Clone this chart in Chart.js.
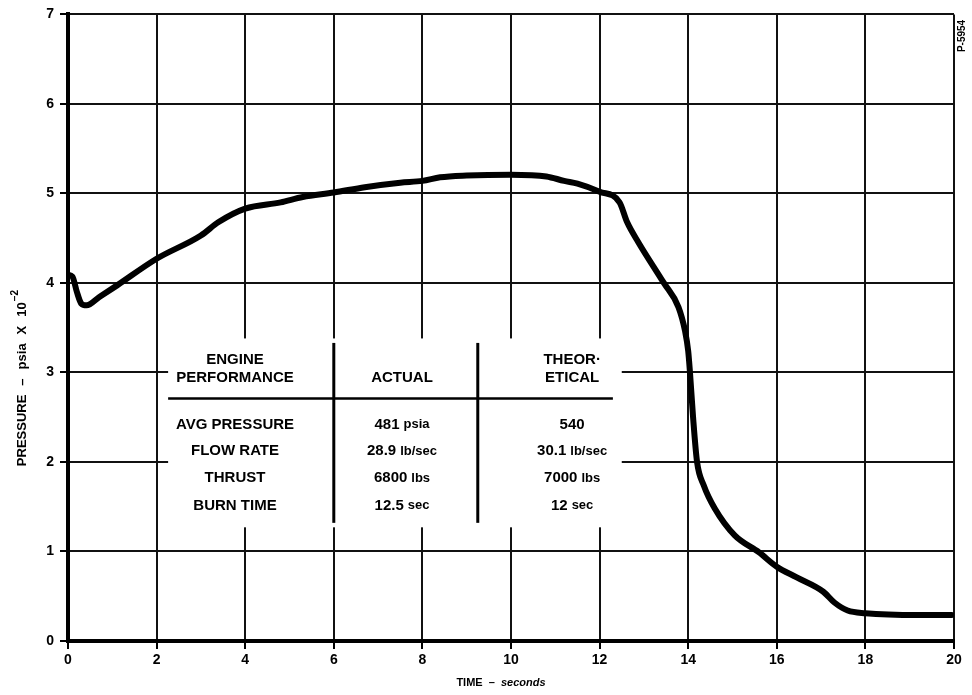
<!DOCTYPE html>
<html>
<head>
<meta charset="utf-8">
<script src="https://cdn.jsdelivr.net/npm/chart.js@4.4.1/dist/chart.umd.min.js"></script>
<style>
  body { margin: 0; background: #fff; }
  canvas { display: block; }
</style>
</head>
<body>
<canvas id="pressureChart" width="972" height="695"></canvas>
<script>
// chamber pressure trace
const timeSec = [0, 0.1, 0.2, 0.3, 0.42, 0.7, 1.1, 2, 3, 3.4, 4, 4.8, 5.3, 6, 6.7, 7.5, 8, 8.4, 9, 10, 10.8, 11.2, 11.5, 12, 12.45, 12.62, 12.88, 13.45, 13.78, 13.93, 14.0, 14.04, 14.11, 14.2, 14.35, 14.6, 15.05, 15.6, 16, 16.45, 17.05, 17.3, 17.6, 18, 19.2, 19.95];
const pressure = [4.09, 4.07, 3.9, 3.77, 3.75, 3.84, 3.97, 4.27, 4.53, 4.68, 4.83, 4.9, 4.96, 5.01, 5.07, 5.12, 5.14, 5.18, 5.2, 5.21, 5.19, 5.14, 5.11, 5.02, 4.9, 4.68, 4.45, 4.0, 3.73, 3.46, 3.24, 3.0, 2.5, 2.0, 1.74, 1.48, 1.18, 0.99, 0.83, 0.71, 0.55, 0.43, 0.34, 0.31, 0.29, 0.29];

// engine performance table
const headEngine = ["ENGINE", "PERFORMANCE"];
const headActual = ["", "ACTUAL"];
const headTheo = ["THEOR·", "ETICAL"];
const rowNames = ["AVG PRESSURE", "FLOW RATE", "THRUST", "BURN TIME"];
const actualNum = ["481", "28.9", "6800", "12.5"];
const actualUnit = ["psia", "lb/sec", "lbs", "sec"];
const theoNum = ["540", "30.1", "7000", "12"];
const theoUnit = ["", "lb/sec", "lbs", "sec"];

const FONT = '"Liberation Sans", Arial, sans-serif';

function drawMixed(ctx, cx, cy, num, unit) {
  ctx.font = 'bold 15px ' + FONT;
  let w1 = ctx.measureText(num).width;
  ctx.font = 'bold 13px ' + FONT;
  let gap = unit ? 4 : 0;
  let w2 = unit ? ctx.measureText(unit).width : 0;
  let left = cx - (w1 + gap + w2) / 2;
  ctx.textAlign = 'left';
  ctx.font = 'bold 15px ' + FONT;
  ctx.fillText(num, left, cy);
  if (unit) {
    ctx.font = 'bold 13px ' + FONT;
    ctx.fillText(unit, left + w1 + gap, cy);
  }
}

const tablePlugin = {
  id: 'perfTable',
  beforeDatasetsDraw(chart) {
    const ctx = chart.ctx;
    const xs = chart.scales.x, ys = chart.scales.y;
    const X = v => xs.getPixelForValue(v);
    const Y = v => ys.getPixelForValue(v);
    ctx.save();
    // white box hides the grid behind the table
    ctx.fillStyle = '#fff';
    ctx.fillRect(X(2.26), Y(3.38), X(12.5) - X(2.26), Y(1.27) - Y(3.38));

    ctx.strokeStyle = '#000';
    ctx.lineWidth = 2.5;
    ctx.beginPath();
    ctx.moveTo(X(2.26), Y(2.71));
    ctx.lineTo(X(12.3), Y(2.71));
    ctx.stroke();
    ctx.lineWidth = 3;
    [6.0, 9.25].forEach(v => {
      ctx.beginPath();
      ctx.moveTo(X(v), Y(3.33));
      ctx.lineTo(X(v), Y(1.32));
      ctx.stroke();
    });

    ctx.fillStyle = '#000';
    ctx.textBaseline = 'middle';
    ctx.textAlign = 'center';
    ctx.font = 'bold 15px ' + FONT;
    const headY = [3.14, 2.94];
    headY.forEach((hy, i) => {
      ctx.fillText(headEngine[i], X(3.77), Y(hy));
      if (headActual[i]) ctx.fillText(headActual[i], X(7.54), Y(hy));
      ctx.fillText(headTheo[i], X(11.38), Y(hy));
    });
    const rowY = [2.42, 2.12, 1.82, 1.51];
    rowNames.forEach((name, i) => {
      ctx.textAlign = 'center';
      ctx.font = 'bold 15px ' + FONT;
      ctx.fillText(name, X(3.77), Y(rowY[i]));
      drawMixed(ctx, X(7.54), Y(rowY[i]), actualNum[i], actualUnit[i]);
      drawMixed(ctx, X(11.38), Y(rowY[i]), theoNum[i], theoUnit[i]);
    });
    ctx.restore();
  },
  afterDraw(chart) {
    const ctx = chart.ctx;
    ctx.save();
    ctx.fillStyle = '#000';
    ctx.textBaseline = 'middle';

    // y axis title, word by word, with superscript
    ctx.translate(22, 378);
    ctx.rotate(-Math.PI / 2);
    const words = ['PRESSURE', '–', 'psia', 'X', '10'];
    const gap = 9;
    ctx.font = 'bold 13px ' + FONT;
    let widths = words.map(w => ctx.measureText(w).width);
    ctx.font = 'bold 10px ' + FONT;
    const wSup = ctx.measureText('−2').width;
    let total = widths.reduce((a, b) => a + b, 0) + gap * (words.length - 1) + wSup + 1;
    let pos = -total / 2;
    ctx.textAlign = 'left';
    ctx.font = 'bold 13px ' + FONT;
    words.forEach((w, i) => {
      ctx.fillText(w, pos, 0);
      pos += widths[i] + (i < words.length - 1 ? gap : 1);
    });
    ctx.font = 'bold 10px ' + FONT;
    ctx.fillText('−2', pos, -7);
    ctx.restore();

    // x axis title
    ctx.save();
    ctx.fillStyle = '#000';
    ctx.textBaseline = 'middle';
    ctx.textAlign = 'left';
    ctx.font = 'bold 11px ' + FONT;
    const t1 = 'TIME  –  ';
    const w1 = ctx.measureText(t1).width;
    ctx.font = 'italic bold 11px ' + FONT;
    const t2 = 'seconds';
    const w2 = ctx.measureText(t2).width;
    const cx = 501;
    ctx.font = 'bold 11px ' + FONT;
    ctx.fillText(t1, cx - (w1 + w2) / 2, 683);
    ctx.font = 'italic bold 11px ' + FONT;
    ctx.fillText(t2, cx - (w1 + w2) / 2 + w1, 683);
    ctx.restore();

    // drawing number in the corner
    ctx.save();
    ctx.fillStyle = '#000';
    ctx.translate(962, 36);
    ctx.rotate(-Math.PI / 2);
    ctx.textAlign = 'center';
    ctx.textBaseline = 'middle';
    ctx.font = 'bold 10px ' + FONT;
    ctx.fillText('P-5954', 0, 0);
    ctx.restore();
  }
};

let ctx = document.getElementById('pressureChart').getContext('2d');
let pressureChart = new Chart(ctx, {
  type: 'scatter',
  data: {
    datasets: [{
      data: timeSec.map((t, i) => ({ x: t, y: pressure[i] })),
      showLine: true,
      borderColor: '#000',
      borderWidth: 6,
      borderCapStyle: 'round',
      borderJoinStyle: 'round',
      pointRadius: 0,
      cubicInterpolationMode: 'monotone'
    }]
  },
  options: {
    responsive: false,
    animation: false,
    layout: { padding: { top: 14, right: 18, left: 0, bottom: 0 } },
    plugins: { legend: { display: false }, tooltip: { enabled: false } },
    scales: {
      x: {
        type: 'linear', min: 0, max: 20,
        ticks: { stepSize: 2, color: '#000', padding: 3, font: { family: FONT, size: 14, weight: 'bold' } },
        grid: { color: '#111', lineWidth: 2, tickLength: 8, tickColor: '#000' },
        border: { color: '#000', width: 4 },
        afterFit(s) { s.height = 54; }
      },
      y: {
        min: 0, max: 7,
        ticks: { stepSize: 1, color: '#000', padding: 6, font: { family: FONT, size: 14, weight: 'bold' } },
        grid: { color: '#111', lineWidth: 2, tickLength: 8, tickColor: '#000' },
        border: { color: '#000', width: 4 },
        afterFit(s) { s.width = 68; }
      }
    }
  },
  plugins: [tablePlugin]
});
</script>
</body>
</html>
